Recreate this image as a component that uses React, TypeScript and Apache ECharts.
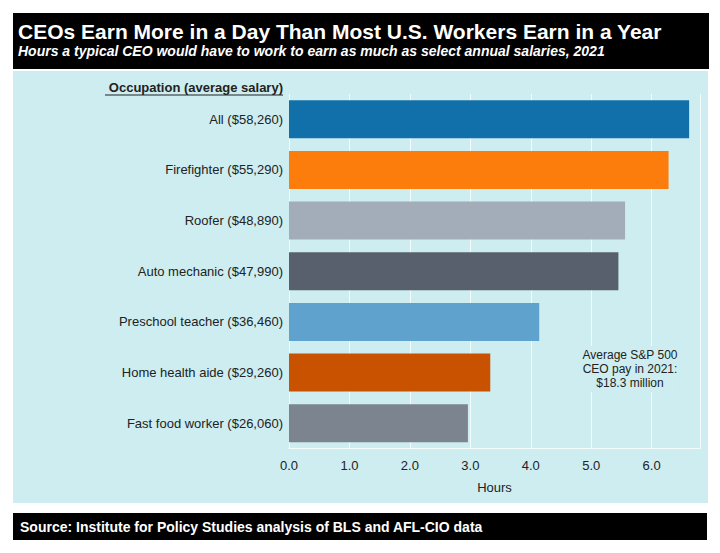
import { useEffect, useRef } from 'react';
import * as echarts from 'echarts';

const occupations = [
  'All ($58,260)',
  'Firefighter ($55,290)',
  'Roofer ($48,890)',
  'Auto mechanic ($47,990)',
  'Preschool teacher ($36,460)',
  'Home health aide ($29,260)',
  'Fast food worker ($26,060)'
];
const hours = [6.62, 6.28, 5.56, 5.45, 4.14, 3.33, 2.96];
const barColors = ['#1170aa', '#fc7d0b', '#a3acb9', '#57606c', '#5fa2ce', '#c85200', '#7b848f'];

const FONT = '"Liberation Sans", Arial, sans-serif';
const PANEL = '#cdedf0';

const App = () => {
  const chartRef = useRef<HTMLDivElement>(null);

  useEffect(() => {
    if (!chartRef.current) return;
    const chart = echarts.init(chartRef.current, null, { renderer: 'svg' });
    const option = {
      animation: false,
      backgroundColor: '#ffffff',
      textStyle: { fontFamily: FONT },
      graphic: [
        // title band
        { type: 'rect', shape: { x: 13, y: 13, width: 696, height: 56 }, style: { fill: '#000' }, z: 0 },
        {
          type: 'text', x: 18, y: 31,
          style: { text: 'CEOs Earn More in a Day Than Most U.S. Workers Earn in a Year', fill: '#fff', font: `bold 21px ${FONT}`, verticalAlign: 'middle' }
        },
        {
          type: 'text', x: 18, y: 51,
          style: { text: 'Hours a typical CEO would have to work to earn as much as select annual salaries, 2021', fill: '#fff', font: `italic bold 14px ${FONT}`, verticalAlign: 'middle' }
        },
        // panel
        { type: 'rect', shape: { x: 13, y: 71, width: 695, height: 432 }, style: { fill: PANEL }, z: -10 },
        {
          type: 'text', x: 283, y: 87,
          style: { text: 'Occupation (average salary)', fill: '#222', font: `bold 13px ${FONT}`, align: 'right', verticalAlign: 'middle' }
        },
        { type: 'line', shape: { x1: 105, y1: 95, x2: 283, y2: 95 }, style: { stroke: '#222', lineWidth: 1 } },
        {
          type: 'text', x: 630, y: 369, z: 10,
          style: {
            text: 'Average S&P 500\nCEO pay in 2021:\n$18.3 million',
            fill: '#222', font: `12px ${FONT}`, align: 'center', verticalAlign: 'middle', lineHeight: 14,
            backgroundColor: PANEL, padding: [2, 2]
          }
        },
        // source band
        { type: 'rect', shape: { x: 13, y: 513, width: 694, height: 27 }, style: { fill: '#000' } },
        {
          type: 'text', x: 20, y: 527,
          style: { text: 'Source: Institute for Policy Studies analysis of BLS and AFL-CIO data', fill: '#fff', font: `bold 14px ${FONT}`, verticalAlign: 'middle' }
        }
      ],
      grid: { left: 289, right: 20, top: 94, bottom: 104.5 },
      xAxis: {
        type: 'value',
        min: 0,
        max: 6.8,
        interval: 1,
        name: 'Hours',
        nameLocation: 'middle',
        nameGap: 32,
        nameTextStyle: { fontSize: 13, color: '#222', fontFamily: FONT },
        axisLine: { show: true, lineStyle: { color: 'rgba(255,255,255,0.8)' } },
        axisTick: { show: false },
        axisLabel: {
          fontSize: 13,
          color: '#222',
          margin: 10,
          formatter: (v: number) => (Math.abs(v - Math.round(v)) > 1e-6 ? '' : v.toFixed(1))
        },
        splitLine: { show: true, lineStyle: { color: 'rgba(255,255,255,0.75)', width: 1 } }
      },
      yAxis: {
        type: 'category',
        data: occupations,
        inverse: true,
        axisLine: { show: false },
        axisTick: { show: false },
        axisLabel: { fontSize: 13, color: '#222', margin: 6 }
      },
      series: [
        {
          type: 'bar',
          barWidth: 38,
          data: hours.map((h, i) => ({ value: h, itemStyle: { color: barColors[i] } }))
        }
      ]
    };
    chart.setOption(option);

    return () => {
      chart.dispose();
    };
  }, []);

  return <div ref={chartRef} style={{ position: 'fixed', left: 0, top: 0, width: 720, height: 553 }} />;
};

export default App;
